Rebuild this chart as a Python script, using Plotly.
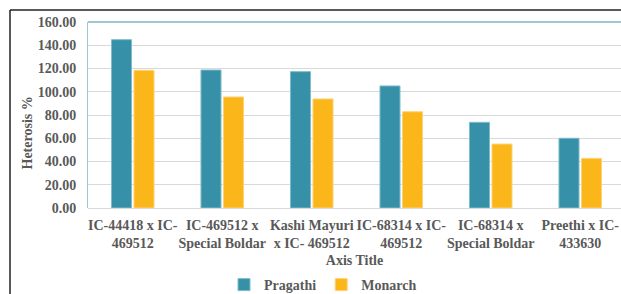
import plotly.graph_objects as go

categories = ["IC-44418 x IC-<br>469512", "IC-469512 x<br>Special Boldar",
              "Kashi Mayuri<br>x IC- 469512", "IC-68314 x IC-<br>469512",
              "IC-68314 x<br>Special Boldar", "Preethi x IC-<br>433630"]
pragathi = [144.8, 118.7, 117.3, 105.0, 73.7, 60.0]
monarch = [118.4, 95.5, 93.8, 82.8, 55.0, 42.7]
y_ticks = [0, 20, 40, 60, 80, 100, 120, 140, 160]
y_tick_labels = [f"{v:.2f}" for v in y_ticks]

FONT = "Liberation Serif"
GRAY = "#595959"
BOLD14 = dict(family=FONT, size=14, color=GRAY, weight="bold")

fig = go.Figure()
fig.add_trace(go.Bar(name="Pragathi", x=categories, y=pragathi,
                     marker=dict(color="#3690A8", line=dict(color="#7FBCCB", width=1))))
fig.add_trace(go.Bar(name="Monarch", x=categories, y=monarch,
                     marker=dict(color="#FBB61A", line=dict(color="#FDD27A", width=1))))

L, R, T, B = 88, 0, 22, 86
W, H = 621, 294
pw = W - L - R
ph = H - T - B

fig.update_layout(
    width=W, height=H,
    margin=dict(l=L, r=R, t=T, b=B, autoexpand=False),
    paper_bgcolor="white", plot_bgcolor="white",
    barmode="group", bargap=0.497, bargroupgap=0.11,
    font=BOLD14,
    showlegend=True,
    legend=dict(orientation="h", x=(323 - L) / pw, xanchor="center",
                y=-(285 - 208) / ph, yanchor="middle",
                font=BOLD14, itemwidth=30,
                traceorder="normal", bgcolor="rgba(0,0,0,0)"),
    xaxis=dict(range=[-0.5, -0.5 + pw / 89.5], showgrid=False, showline=False,
               automargin=False, tickangle=0, ticklabelstandoff=7,
               ticks="", tickfont=BOLD14,
               title=dict(text="Axis Title", standoff=4, font=BOLD14)),
    yaxis=dict(range=[0, 160], tickvals=y_ticks, ticktext=y_tick_labels,
               automargin=False, ticklabelstandoff=8,
               showgrid=True, gridcolor="#D9D9D9", gridwidth=1,
               zeroline=True, zerolinecolor="#D9D9D9", zerolinewidth=1,
               showline=True, linecolor="#9CC8D1", linewidth=1,
               ticks="", ticklen=0, tickfont=BOLD14),
)

# y axis title (placed where the reference shows it)
fig.add_annotation(text="Heterosis %", xref="paper", yref="paper",
                   x=(27 - L) / pw, y=(208 - 133.5) / ph, textangle=-90,
                   showarrow=False, font=BOLD14, xanchor="center", yanchor="middle")

# top teal border of plot area
fig.add_shape(type="line", xref="paper", yref="paper", x0=0, x1=1.05, y0=1, y1=1,
              line=dict(color="#9CC8D1", width=2))
# outer chart frame (top and left)
fx = (10 - L) / pw
fy = 1 + (T - 10) / ph
fig.add_shape(type="line", xref="paper", yref="paper", x0=fx, x1=1.1, y0=fy, y1=fy,
              line=dict(color="#222222", width=1.5))
fig.add_shape(type="line", xref="paper", yref="paper", x0=fx, x1=fx, y0=fy, y1=-1,
              line=dict(color="#222222", width=1.5))

fig.write_html("out.html", config={"displayModeBar": False},
               post_script="document.body.style.margin='0';")
